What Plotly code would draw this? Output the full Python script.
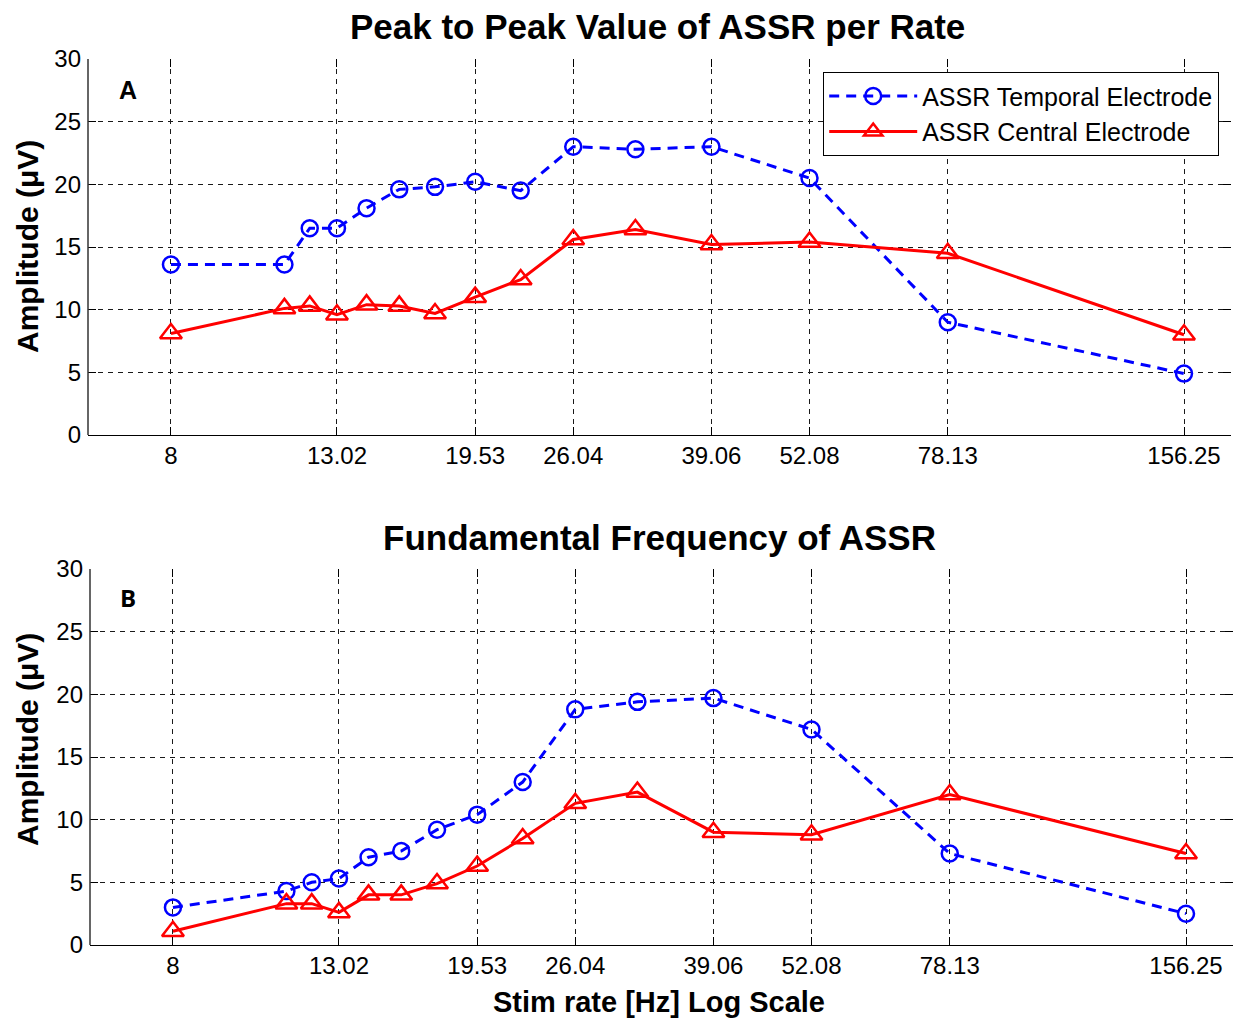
import plotly.graph_objects as go
from plotly.subplots import make_subplots

W, H = 1233, 1019

# Data
stim_rate = [8, 11.16, 12.02, 13.02, 14.20, 15.63, 17.36, 19.53, 22.32, 26.04, 31.25, 39.06, 52.08, 78.13, 156.25]
tick_vals = [8, 13.02, 19.53, 26.04, 39.06, 52.08, 78.13, 156.25]
tick_text = ["8", "13.02", "19.53", "26.04", "39.06", "52.08", "78.13", "156.25"]

p2p_temporal = [13.6, 13.6, 16.5, 16.5, 18.1, 19.6, 19.8, 20.2, 19.5, 23.0, 22.8, 23.0, 20.5, 9.0, 4.9]
p2p_central = [8.1, 10.1, 10.3, 9.6, 10.4, 10.3, 9.7, 11.0, 12.4, 15.6, 16.4, 15.2, 15.4, 14.5, 8.0]

fund_temporal = [3.0, 4.3, 5.0, 5.3, 7.0, 7.5, 9.2, 10.4, 13.0, 18.8, 19.4, 19.7, 17.2, 7.3, 2.5]
fund_central = [1.1, 3.3, 3.3, 2.6, 4.0, 4.0, 4.9, 6.3, 8.5, 11.3, 12.2, 9.0, 8.8, 12.0, 7.3]

FONT = "Liberation Sans, Arial, sans-serif"

fig = make_subplots(rows=2, cols=1)

def add_series(row, temporal, central, show):
    fig.add_trace(go.Scatter(
        x=stim_rate, y=temporal, mode="lines+markers", name="ASSR Temporal Electrode",
        line=dict(color="#0000FF", width=3, dash="10px,7px"),
        marker=dict(symbol="circle-open", size=16, color="#0000FF", line=dict(width=2.5, color="#0000FF")),
        showlegend=show, legendrank=1), row=row, col=1)
    fig.add_trace(go.Scatter(
        x=stim_rate, y=central, mode="lines+markers", name="ASSR Central Electrode",
        line=dict(color="#FF0000", width=3),
        marker=dict(symbol="triangle-up-open", size=19, color="#FF0000", line=dict(width=2.5, color="#FF0000")),
        showlegend=show, legendrank=2), row=row, col=1)

add_series(1, p2p_temporal, p2p_central, True)
add_series(2, fund_temporal, fund_central, False)

def px_x(p):
    return p / W

def px_y(p):
    return 1 - p / H

xrange_log = [0.7974, 2.2537]
common_x = dict(type="log", range=xrange_log, tickvals=tick_vals, ticktext=tick_text,
                showgrid=True, gridcolor="#1a1a1a", gridwidth=1, griddash="5px,5px",
                ticks="inside", ticklen=8, tickcolor="black", mirror="ticks",
                showline=False, zeroline=False, automargin=False, ticklabelstandoff=4,
                tickfont=dict(family=FONT, size=24, color="black"))
common_y = dict(range=[0, 30], tickvals=[0, 5, 10, 15, 20, 25, 30],
                showgrid=True, gridcolor="#1a1a1a", gridwidth=1, griddash="5px,5px",
                ticks="inside", ticklen=8, tickcolor="black", mirror="ticks",
                showline=False, zeroline=True, zerolinecolor="black", zerolinewidth=1,
                automargin=False, ticklabelstandoff=6,
                tickfont=dict(family=FONT, size=24, color="black"))

fig.update_xaxes(**common_x, domain=[px_x(88), px_x(1231)], row=1, col=1)
fig.update_xaxes(**common_x, domain=[px_x(90), 1.0], row=2, col=1)
fig.update_yaxes(**common_y, domain=[px_y(435), px_y(59)], row=1, col=1)
fig.update_yaxes(**common_y, domain=[px_y(945), px_y(569)], row=2, col=1)

# left axis lines
for xr, yr in (("x", "y"), ("x2", "y2")):
    fig.add_shape(type="line", xref=xr + " domain", yref=yr + " domain", x0=0, x1=0, y0=0, y1=1,
                  line=dict(color="#333333", width=1.5))

annots = [
    dict(text="<b>Peak to Peak Value of ASSR per Rate</b>", x=px_x(657), y=px_y(27),
         font=dict(family=FONT, size=35, color="black")),
    dict(text="<b>Fundamental Frequency of ASSR</b>", x=px_x(659), y=px_y(537),
         font=dict(family=FONT, size=35, color="black")),
    dict(text="<b>Stim rate [Hz] Log Scale</b>", x=px_x(659), y=px_y(1002),
         font=dict(family=FONT, size=29, color="black")),
    dict(text="<b>Amplitude (μV)</b>", x=px_x(27), y=px_y(247), textangle=-90,
         font=dict(family=FONT, size=30, color="black")),
    dict(text="<b>Amplitude (μV)</b>", x=px_x(27), y=px_y(740), textangle=-90,
         font=dict(family=FONT, size=30, color="black")),
    dict(text="<b>A</b>", x=px_x(128), y=px_y(90),
         font=dict(family=FONT, size=25, color="black")),
    dict(text="<b>B</b>", x=px_x(128), y=px_y(597),
         font=dict(family="Open Sans, sans-serif", size=24, color="black")),
]
for a in annots:
    fig.add_annotation(xref="paper", yref="paper", xanchor="center", yanchor="middle",
                       showarrow=False, **a)

fig.update_layout(
    width=W, height=H,
    margin=dict(l=0, r=0, t=0, b=0, autoexpand=False),
    paper_bgcolor="white", plot_bgcolor="white",
    font=dict(family=FONT, color="black"),
    legend=dict(x=px_x(1219), y=px_y(72), xanchor="right", yanchor="top",
                bgcolor="white", bordercolor="black", borderwidth=1.2,
                font=dict(family=FONT, size=25, color="black"),
                itemwidth=88, tracegroupgap=0),
)

fig.write_html("out.html")
